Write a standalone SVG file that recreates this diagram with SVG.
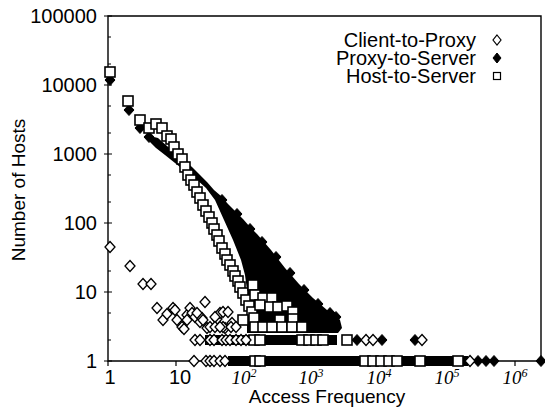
<svg xmlns="http://www.w3.org/2000/svg" xmlns:xlink="http://www.w3.org/1999/xlink" width="545" height="408" viewBox="0 0 545 408">
<style>
.lab{font-family:"Liberation Sans",Arial,sans-serif;font-size:20px;fill:#000}
.ttl{font-family:"Liberation Sans",Arial,sans-serif;font-size:19px;fill:#000}
.leg{font-family:"Liberation Sans",Arial,sans-serif;font-size:20px;fill:#000}
.ex{font-family:"Liberation Serif","Times New Roman",serif;font-style:italic;font-size:19px;fill:#000}
.axis{fill:none;stroke:#000;stroke-width:1.4}
.tk{stroke:#000;stroke-width:1.2}
</style>
<defs>
<path id="od" d="M0,-5.5 L5,0 L0,5.5 L-5,0 Z" fill="#fff" stroke="#000" stroke-width="1.3"/>
<path id="fd" d="M0,-5.5 L5,0 L0,5.5 L-5,0 Z" fill="#000" stroke="#000" stroke-width="1"/>
<rect id="sq" x="-5" y="-5" width="10" height="10" fill="#fff" stroke="#000" stroke-width="1.6"/>
</defs>
<rect width="545" height="408" fill="#fff"/>

<g id="axes">
<path class="axis" d="M108,16 H541 V361 H108 Z"/>
<path class="tk" d="M104,16H112M104,85H112M104,154H112M104,223H112M104,292H112M104,361H112
M108,37H111M108,64H111M108,106H111M108,133H111M108,175H111M108,202H111M108,244H111M108,271H111M108,313H111M108,340H111
M108,361V366M176,361V366M244,361V366M311,361V366M379,361V366M447,361V366M515,361V366"/>
</g>

<g id="ticklabels" class="lab" text-anchor="end">
<text x="97" y="23">100000</text>
<text x="97" y="92">10000</text>
<text x="97" y="161">1000</text>
<text x="97" y="230">100</text>
<text x="97" y="299">10</text>
<text x="97" y="368">1</text>
</g>
<g id="xlabels" text-anchor="middle">
<text class="lab" x="110" y="384">1</text>
<text class="lab" x="180" y="384">10</text>
<text class="ex" x="244" y="384">10<tspan font-size="12" dy="-7">2</tspan></text>
<text class="ex" x="311" y="384">10<tspan font-size="12" dy="-7">3</tspan></text>
<text class="ex" x="379" y="384">10<tspan font-size="12" dy="-7">4</tspan></text>
<text class="ex" x="447" y="384">10<tspan font-size="12" dy="-7">5</tspan></text>
<text class="ex" x="515" y="384">10<tspan font-size="12" dy="-7">6</tspan></text>
</g>
<text class="ttl" x="327" y="403" text-anchor="middle">Access Frequency</text>
<text class="ttl" transform="translate(25,190) rotate(-90)" text-anchor="middle">Number of Hosts</text>

<g id="legend" class="leg" text-anchor="end">
<text x="476" y="47">Client-to-Proxy</text>
<text x="476" y="65">Proxy-to-Server</text>
<text x="476" y="83">Host-to-Server</text>
<path d="M497,35 L501,40 L497,45 L493,40 Z" fill="#fff" stroke="#000" stroke-width="1.2"/>
<path d="M497,53 L501,58 L497,63 L493,58 Z" fill="#000" stroke="#000" stroke-width="1"/>
<rect x="493.5" y="72.5" width="7" height="7" fill="#fff" stroke="#000" stroke-width="1.2"/>
</g>

<g id="proxy-to-server">
<polygon fill="#000" points="150,136 158,138 167,146 176,153 184,160 192,167 200,175 207,182 214,190 221,196 228,204 236,212 243,219 250,227 257,234 264,242 271,250 278,259 285,268 292,276 299,284 306,291 313,298 320,304 327,310 334,314 340,320 342,328 338,333 247,333 247,290 245,275 241,260 233,240 224,220 215,200 206,188 196,179 185,171 175,163 165,155 156,148 150,142"/>
<rect x="205" y="335" width="132" height="10" fill="#000"/>
<rect x="228" y="356" width="240" height="10" fill="#000"/>
<use href="#fd" x="110" y="80"/><use href="#fd" x="129" y="110"/><use href="#fd" x="140" y="128"/><use href="#fd" x="149" y="137"/>
<use href="#fd" x="222" y="200"/><use href="#fd" x="237" y="214"/><use href="#fd" x="250" y="229"/><use href="#fd" x="262" y="242"/><use href="#fd" x="276" y="257"/><use href="#fd" x="290" y="273"/><use href="#fd" x="304" y="290"/><use href="#fd" x="318" y="304"/><use href="#fd" x="330" y="313"/><use href="#fd" x="336" y="317"/><use href="#fd" x="323" y="317"/>
<use href="#fd" x="357" y="340"/><use href="#fd" x="382" y="340"/><use href="#fd" x="415" y="340"/>
<use href="#fd" x="478" y="361"/><use href="#fd" x="486" y="361"/><use href="#fd" x="494" y="361"/><use href="#fd" x="541" y="361"/>
</g>

<g id="host-to-server">
<use href="#sq" x="110" y="72"/><use href="#sq" x="128" y="101"/><use href="#sq" x="140" y="120"/><use href="#sq" x="149" y="128"/><use href="#sq" x="156" y="124"/><use href="#sq" x="162" y="128"/><use href="#sq" x="167" y="136"/><use href="#sq" x="171" y="139"/><use href="#sq" x="174" y="147"/><use href="#sq" x="178" y="154"/><use href="#sq" x="182" y="159"/><use href="#sq" x="185" y="167"/><use href="#sq" x="188" y="175"/><use href="#sq" x="191" y="180"/><use href="#sq" x="194" y="185"/><use href="#sq" x="197" y="192"/><use href="#sq" x="200" y="198"/><use href="#sq" x="203" y="205"/><use href="#sq" x="206" y="211"/><use href="#sq" x="209" y="217"/><use href="#sq" x="212" y="223"/><use href="#sq" x="214" y="229"/><use href="#sq" x="217" y="235"/><use href="#sq" x="219" y="241"/><use href="#sq" x="222" y="248"/><use href="#sq" x="225" y="254"/><use href="#sq" x="227" y="260"/><use href="#sq" x="230" y="265"/><use href="#sq" x="233" y="271"/><use href="#sq" x="235" y="276"/><use href="#sq" x="238" y="281"/><use href="#sq" x="240" y="287"/><use href="#sq" x="243" y="293"/><use href="#sq" x="246" y="300"/><use href="#sq" x="249" y="306"/><use href="#sq" x="252" y="312"/><use href="#sq" x="254" y="318"/>
<use href="#sq" x="253" y="285"/><use href="#sq" x="255" y="295"/><use href="#sq" x="263" y="298"/><use href="#sq" x="272" y="298"/><use href="#sq" x="260" y="305"/><use href="#sq" x="270" y="307"/><use href="#sq" x="278" y="307"/><use href="#sq" x="287" y="306"/><use href="#sq" x="293" y="312"/><use href="#sq" x="243" y="320"/><use href="#sq" x="293" y="319"/><use href="#sq" x="280" y="320"/><use href="#sq" x="255" y="327"/><use href="#sq" x="263" y="327"/><use href="#sq" x="272" y="327"/><use href="#sq" x="282" y="327"/><use href="#sq" x="292" y="327"/><use href="#sq" x="302" y="327"/>
<use href="#sq" x="254" y="340"/><use href="#sq" x="260" y="340"/><use href="#sq" x="302" y="340"/><use href="#sq" x="309" y="340"/><use href="#sq" x="316" y="340"/><use href="#sq" x="323" y="340"/><use href="#sq" x="347" y="340"/>
<use href="#sq" x="255" y="361"/><use href="#sq" x="260" y="361"/><use href="#sq" x="365" y="361"/><use href="#sq" x="373" y="361"/><use href="#sq" x="381" y="361"/><use href="#sq" x="389" y="361"/><use href="#sq" x="397" y="361"/><use href="#sq" x="420" y="361"/><use href="#sq" x="458" y="361"/>
</g>

<g id="client-to-proxy">
<use href="#od" x="110" y="247"/><use href="#od" x="130" y="266"/><use href="#od" x="143" y="284"/><use href="#od" x="151" y="284"/><use href="#od" x="157" y="308"/><use href="#od" x="163" y="320"/><use href="#od" x="167" y="314"/><use href="#od" x="173" y="308"/><use href="#od" x="175" y="310"/><use href="#od" x="177" y="320"/><use href="#od" x="182" y="327"/><use href="#od" x="184" y="329"/><use href="#od" x="187" y="315"/><use href="#od" x="190" y="308"/><use href="#od" x="192" y="313"/><use href="#od" x="195" y="317"/><use href="#od" x="200" y="322"/><use href="#od" x="205" y="302"/><use href="#od" x="202" y="318"/><use href="#od" x="207" y="328"/><use href="#od" x="217" y="319"/><use href="#od" x="220" y="313"/><use href="#od" x="223" y="312"/><use href="#od" x="228" y="312"/><use href="#od" x="225" y="328"/><use href="#od" x="232" y="323"/><use href="#od" x="197" y="313"/><use href="#od" x="215" y="317"/><use href="#od" x="203" y="320"/><use href="#od" x="187" y="320"/><use href="#od" x="223" y="327"/>
<use href="#od" x="210" y="327"/><use href="#od" x="215" y="327"/><use href="#od" x="220" y="327"/><use href="#od" x="231" y="327"/><use href="#od" x="236" y="327"/>
<use href="#od" x="195" y="340"/><use href="#od" x="200" y="340"/><use href="#od" x="210" y="340"/><use href="#od" x="214" y="340"/><use href="#od" x="222" y="340"/><use href="#od" x="226" y="340"/><use href="#od" x="230" y="340"/><use href="#od" x="236" y="340"/><use href="#od" x="241" y="340"/><use href="#od" x="246" y="340"/><use href="#od" x="366" y="340"/><use href="#od" x="373" y="340"/><use href="#od" x="422" y="340"/>
<use href="#od" x="194" y="361"/><use href="#od" x="206" y="361"/><use href="#od" x="210" y="361"/><use href="#od" x="214" y="361"/><use href="#od" x="220" y="361"/><use href="#od" x="225" y="361"/><use href="#od" x="470" y="361"/>
</g>
</svg>
